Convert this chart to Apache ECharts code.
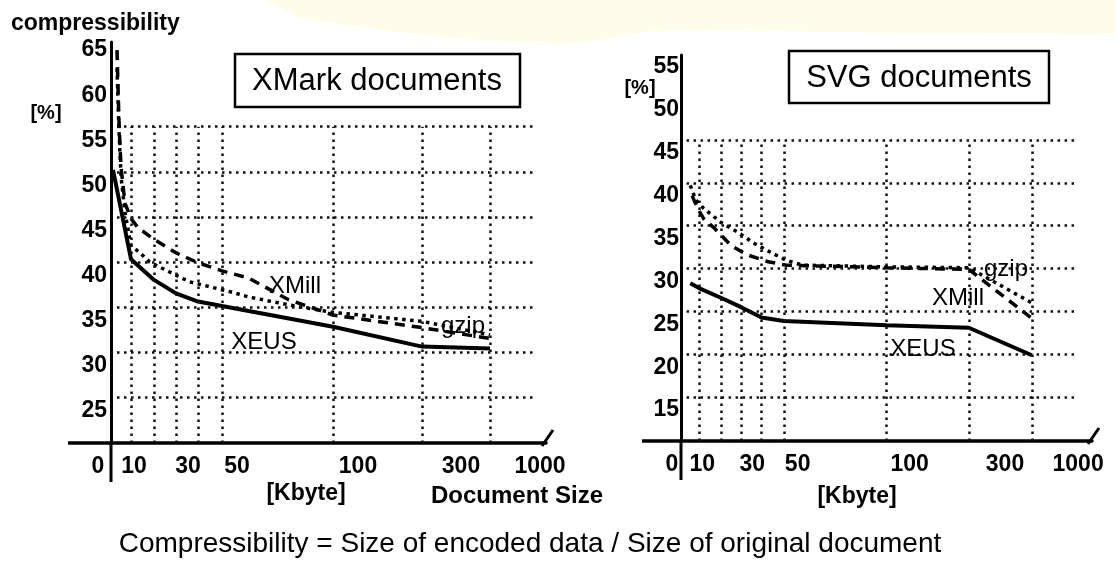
<!DOCTYPE html>
<html>
<head>
<meta charset="utf-8">
<script src="https://cdn.jsdelivr.net/npm/echarts@6/dist/echarts.min.js"></script>
<style>
  html, body { margin: 0; padding: 0; background: #fff; }
  #chart_id { width: 1115px; height: 563px; }
</style>
</head>
<body>
<div id="chart_id"></div>
<script>
// x axis is a hand drawn size scale: Kbyte -> axis units
const scaleKb  = [0, 10, 20, 30, 40, 50, 100, 200, 500, 1000];
const scalePos = [0, 20, 43, 65, 87, 111, 222, 311, 379, 429];

// tick labels of the size axis and where they sit (axis units)
const sizeTicks   = ['0', '10', '30', '50', '100', '300', '1000'];
const sizeTickPos = [0, 23, 77, 126, 247, 350, 429];

// document sizes measured (vertical grid lines)
const docSizesKb = [10, 20, 30, 40, 50, 100, 200, 500];

// compressibility ticks and grid lines [%]
const xmarkTicks = [25, 30, 35, 40, 45, 50, 55, 60, 65];
const svgTicks   = [15, 20, 25, 30, 35, 40, 45, 50, 55];
const xmarkGrid  = [26.5, 31.5, 36.5, 41.5, 46.5, 51.5, 56.5];
const svgGrid    = [16.5, 21.5, 26.5, 31.5, 36.5, 41.5, 46.5];

// XMark documents: [Kbyte, %]
const xmarkXEUS = [[1, 51.7], [10, 41.8], [20, 39.5], [30, 38.0], [40, 37.1], [50, 36.6], [100, 34.3], [200, 32.1], [500, 31.9]];
const xmarkXMill = [[3, 65], [4, 57], [5, 52], [7, 48], [10, 46.3], [13, 45.3], [20, 44], [30, 42.5], [40, 41.4], [50, 40.5], [62, 39.7], [80, 37.3], [100, 35.6], [200, 34.2], [500, 33.0]];
const xmarkGzip = [[3, 63], [4, 56], [5, 51], [7, 47], [10, 43.3], [14, 42.5], [18, 41.5], [36, 39.3], [55, 38.1], [62, 37.6], [85, 36.5], [100, 35.9], [200, 34.9], [500, 33.4]];

// SVG documents: [Kbyte, %]
const svgXEUS = [[5, 29.8], [10, 29.2], [20, 28.1], [30, 27.0], [40, 25.8], [50, 25.4], [100, 24.9], [200, 24.6], [500, 21.4]];
const svgXMill = [[6, 40], [9, 38.5], [12, 37.3], [17, 36.2], [25, 34.2], [33, 33.1], [43, 32.3], [51, 31.9], [100, 31.6], [200, 31.4], [500, 25.7]];
const svgGzip = [[5, 41.2], [8, 39.5], [12, 38.5], [20, 36.9], [28, 35.8], [36, 34.5], [44, 33.4], [51, 32.5], [59, 31.9], [100, 31.7], [200, 31.6], [500, 27.5]];

const FONT = '"Liberation Sans", Arial, sans-serif';

function kbToPos(kb) {
  for (let i = 1; i < scaleKb.length; i++) {
    if (kb <= scaleKb[i]) {
      const t = (kb - scaleKb[i - 1]) / (scaleKb[i] - scaleKb[i - 1]);
      return scalePos[i - 1] + t * (scalePos[i] - scalePos[i - 1]);
    }
  }
  return scalePos[scalePos.length - 1];
}
function toPoints(pairs) {
  return pairs.map(p => [kbToPos(p[0]), p[1]]);
}

function mkX(gi, max, zeroPad) {
  return {
    type: 'value', gridIndex: gi, min: 0, max: max,
    axisLine: { show: true, onZero: false, lineStyle: { color: '#000', width: 3.5 } },
    axisTick: { show: false },
    splitLine: { show: false },
    axisLabel: {
      customValues: sizeTickPos,
      margin: 12,
      color: '#000', fontSize: 23, fontWeight: 'bold', fontFamily: FONT,
      formatter: function (v) {
        const i = sizeTickPos.indexOf(v);
        const t = i < 0 ? '' : sizeTicks[i];
        return i === 0 ? '{z|' + t + '}' : t;
      },
      rich: { z: { color: '#000', fontSize: 23, fontWeight: 'bold', fontFamily: FONT, padding: [0, zeroPad, 0, 0] } }
    }
  };
}
function mkY(gi, min, max, ticks, margin) {
  return {
    type: 'value', gridIndex: gi, min: min, max: max,
    axisLine: { show: true, lineStyle: { color: '#000', width: 3 } },
    axisTick: { show: false },
    splitLine: { show: false },
    axisLabel: { customValues: ticks, margin: margin, color: '#000', fontSize: 23, fontWeight: 'bold', fontFamily: FONT }
  };
}

function gridLines(gi, hVals, yMin, yTop) {
  const dots = { color: '#111', width: 2.5, type: [2.5, 4.5] };
  const data = [];
  hVals.forEach(v => data.push([{ coord: [6, v] }, { coord: [425, v] }]));
  docSizesKb.forEach(kb => data.push([{ coord: [kbToPos(kb), yMin] }, { coord: [kbToPos(kb), yTop] }]));
  return {
    type: 'line', xAxisIndex: gi, yAxisIndex: gi, data: [], z: 1, silent: true,
    markLine: { silent: true, symbol: ['none', 'none'], label: { show: false }, lineStyle: dots, data: data, animation: false }
  };
}

function lineSeries(gi, name, pairs, style) {
  return {
    name: name, type: 'line', xAxisIndex: gi, yAxisIndex: gi, z: 3,
    symbol: 'none', showSymbol: false,
    data: toPoints(pairs),
    lineStyle: Object.assign({ color: '#000' }, style)
  };
}

const solid = { width: 4, type: 'solid' };
const dashed = { width: 3.5, type: [10, 7] };
const dotted = { width: 3.5, type: [3.5, 4.5] };

function txt(x, y, s, size, weight, align) {
  return {
    type: 'text', x: x, y: y, z: 20,
    style: { text: s, fill: '#000', font: (weight || 'normal') + ' ' + size + 'px ' + FONT, textAlign: align || 'center', textVerticalAlign: 'middle' }
  };
}
function seg(x1, y1, x2, y2, w) {
  return { type: 'line', z: 5, shape: { x1: x1, y1: y1, x2: x2, y2: y2 }, style: { stroke: '#000', lineWidth: w } };
}

const chart = echarts.init(document.getElementById('chart_id'));
chart.setOption({
  animation: false,
  backgroundColor: '#fff',
  grid: [
    { left: 111, top: 42, width: 435, height: 401 },
    { left: 681, top: 55, width: 411, height: 386 }
  ],
  xAxis: [mkX(0, 435, 26), mkX(1, 444, 18)],
  yAxis: [mkY(0, 21.4, 65.9, xmarkTicks, 4), mkY(1, 11.4, 56.4, svgTicks, 2)],
  series: [
    gridLines(0, xmarkGrid, 21.4, 56.5),
    lineSeries(0, 'XEUS', xmarkXEUS, solid),
    lineSeries(0, 'XMill', xmarkXMill, dashed),
    lineSeries(0, 'gzip', xmarkGzip, dotted),
    gridLines(1, svgGrid, 11.4, 46.5),
    lineSeries(1, 'XEUS', svgXEUS, solid),
    lineSeries(1, 'XMill', svgXMill, dashed),
    lineSeries(1, 'gzip', svgGzip, dotted)
  ],
  graphic: [
    {
      type: 'polygon', z: -10, silent: true,
      shape: { points: [[264, 0], [1115, 0], [1115, 34], [900, 33], [700, 30], [650, 31], [600, 40], [560, 44], [450, 38], [390, 31], [300, 18]] },
      style: { fill: '#fffde9' }
    },
    { type: 'rect', z: 10, shape: { x: 235, y: 54, width: 285, height: 53 }, style: { fill: '#fff', stroke: '#000', lineWidth: 2.5 } },
    txt(377, 81, 'XMark documents', 31),
    { type: 'rect', z: 10, shape: { x: 789, y: 51, width: 260, height: 52 }, style: { fill: '#fff', stroke: '#000', lineWidth: 2.5 } },
    txt(919, 78, 'SVG documents', 31),
    txt(11, 24, 'compressibility', 23, 'bold', 'left'),
    txt(46, 113, '[%]', 20, 'bold'),
    txt(640, 88, '[%]', 20, 'bold'),
    txt(295, 286, 'XMill', 24),
    txt(264, 342, 'XEUS', 24),
    txt(463, 326, 'gzip', 24),
    txt(1006, 269, 'gzip', 24),
    txt(958, 298, 'XMill', 24),
    txt(923, 349, 'XEUS', 24),
    txt(306, 494, '[Kbyte]', 23, 'bold'),
    txt(517, 496, 'Document Size', 24, 'bold'),
    txt(857, 497, '[Kbyte]', 23, 'bold'),
    txt(530, 544, 'Compressibility = Size of encoded data / Size of original document', 28),
    seg(68, 443, 111, 443, 3.5),
    seg(111, 443, 111, 482, 3),
    seg(542, 446, 553, 430, 3),
    seg(642, 441, 681, 441, 3.5),
    seg(681, 441, 681, 480, 3),
    seg(1088, 444, 1099, 428, 3)
  ]
});
</script>
</body>
</html>
